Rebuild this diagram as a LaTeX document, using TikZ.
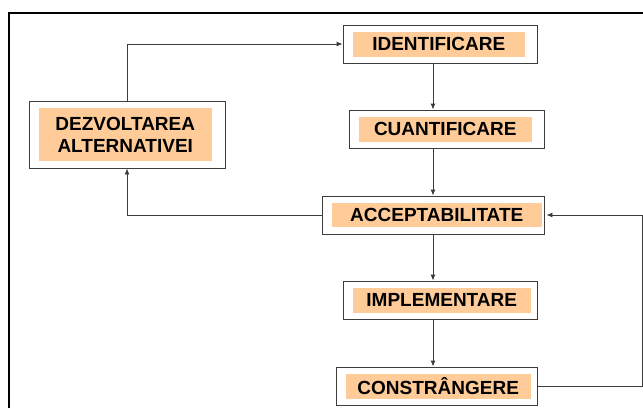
\documentclass[tikz,border=0pt]{standalone}
\usepackage{fontspec}
\setmainfont{Liberation Sans}
\usetikzlibrary{arrows.meta,calc}
\definecolor{piersica}{RGB}{255,204,153}
\definecolor{linie}{RGB}{60,60,60}
\tikzset{
  flowbox/.style={draw=linie,line width=.9pt,fill=white,inner sep=0pt},
  flowlbl/.style={fill=piersica,inner sep=0pt,anchor=west,align=center,
    font=\fontsize{19}{22}\selectfont\bfseries},
  flowarr/.style={-{Latex[length=6pt,width=5pt]},draw=linie,line width=.9pt},
  cadru/.style={line width=2pt,black}
}
\begin{document}
\begin{tikzpicture}[x=1pt,y=-1pt]
  \useasboundingbox (0,0) rectangle (643,408);
  % outer frame, cut at right and bottom
  \draw[cadru] (9,408) -- (9,13) -- (643,13);

  % boxes of the chain
  \node[flowbox,minimum width=194,minimum height=38] (ident) at (440,44) {};
  \node[flowbox,minimum width=195,minimum height=38] (cuant) at (446.5,129) {};
  \node[flowbox,minimum width=222,minimum height=38] (accept) at (433,215) {};
  \node[flowbox,minimum width=194,minimum height=38] (impl) at (440,300) {};
  \node[flowbox,minimum width=201,minimum height=38] (constr) at (436.5,386) {};
  \node[flowbox,minimum width=196,minimum height=67] (dezv) at (127,134.5) {};

  % orange labels inside
  \node[flowlbl,minimum width=172,minimum height=25] (identlbl) at ([xshift=10]ident.west) {IDENTIFICARE};
  \node[flowlbl,minimum width=173,minimum height=25] (cuantlbl) at ([xshift=10]cuant.west) {CUANTIFICARE};
  \node[flowlbl,minimum width=210,minimum height=24] (acceptlbl) at ([xshift=10]accept.west) {ACCEPTABILITATE};
  \node[flowlbl,minimum width=178,minimum height=25] (impllbl) at ([xshift=10]impl.west) {IMPLEMENTARE};
  \node[flowlbl,minimum width=185,minimum height=25] (constrlbl) at ([xshift=10]constr.west) {CONSTRÂNGERE};
  \node[flowlbl,minimum width=173,minimum height=53] (dezvlbl) at ([xshift=10]dezv.west) {DEZVOLTAREA\\ALTERNATIVEI};

  % connectors
  \coordinate (spine) at (433,0);
  \coordinate (bucla) at (642,0);
  \draw[flowarr] (ident.south -| spine) -- (cuant.north -| spine);
  \draw[flowarr] (cuant.south -| spine) -- (accept.north -| spine);
  \draw[flowarr] (accept.south -| spine) -- (impl.north -| spine);
  \draw[flowarr] (impl.south -| spine) -- (constr.north -| spine);
  \draw[flowarr] (dezv.north) |- (ident.west);
  \draw[flowarr] (accept.west) -| (dezv.south);
  \draw[flowarr] (constr.east) -- (constr.east -| bucla) |- ([xshift=2]accept.east);
\end{tikzpicture}
\end{document}
